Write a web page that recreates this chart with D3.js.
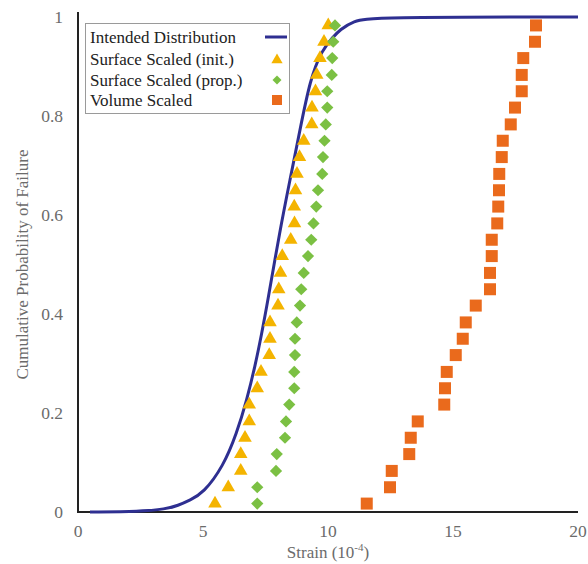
<!DOCTYPE html>
<html>
<head>
<meta charset="utf-8">
<script src="https://cdn.jsdelivr.net/npm/d3@7"></script>
<style>
  html, body { margin: 0; padding: 0; background: #fff; }
  svg { display: block; }
  svg text { font-family: "Liberation Serif", "Times New Roman", serif; }
</style>
</head>
<body>
<svg id="chart" width="588" height="564"></svg>
<script>
// ---- Data ----
const curveX = [0.48, 2.5, 3.5, 4.0, 4.48, 5.01, 5.81, 6.35, 6.75, 7.08, 7.35, 7.57, 8.08, 8.48, 8.88, 9.28, 9.75, 10.21, 10.48, 11.0, 11.8, 20];
const curveY = [0, 0.001, 0.006, 0.013, 0.024, 0.038, 0.092, 0.159, 0.226, 0.294, 0.361, 0.42, 0.57, 0.671, 0.772, 0.873, 0.933, 0.96, 0.974, 0.992, 1, 1];

const probs = [0.017, 0.05, 0.083, 0.117, 0.15, 0.183, 0.217, 0.25, 0.283, 0.317,
               0.35, 0.383, 0.417, 0.45, 0.483, 0.517, 0.55, 0.583, 0.617, 0.65,
               0.683, 0.717, 0.75, 0.783, 0.817, 0.85, 0.883, 0.917, 0.95, 0.983];

const surfInit = [5.48, 6.01, 6.51, 6.51, 6.68, 6.85, 6.85, 7.17, 7.32, 7.65,
                  7.68, 7.68, 8.0, 8.03, 8.1, 8.17, 8.51, 8.66, 8.65, 8.7,
                  8.76, 8.86, 9.03, 9.35, 9.36, 9.5, 9.55, 9.68, 9.84, 10.01];

const surfProp = [7.17, 7.17, 7.92, 7.95, 8.28, 8.32, 8.45, 8.65, 8.65, 8.68,
                  8.68, 8.75, 8.88, 8.93, 9.03, 9.2, 9.33, 9.42, 9.53, 9.6,
                  9.77, 9.8, 9.86, 9.91, 9.97, 9.97, 10.15, 10.17, 10.21, 10.28];

const volume = [11.55, 12.48, 12.55, 13.25, 13.31, 13.59, 14.65, 14.68, 14.75, 15.11,
                15.39, 15.51, 15.91, 16.48, 16.48, 16.55, 16.55, 16.77, 16.81, 16.84,
                16.85, 16.95, 16.99, 17.31, 17.48, 17.75, 17.75, 17.81, 18.28, 18.32];

const xTicks = [0, 5, 10, 15, 20];
const yTicks = [0, 0.2, 0.4, 0.6, 0.8, 1];
const yTickLabels = ["0", "0.2", "0.4", "0.6", "0.8", "1"];

const legendLabels = ["Intended Distribution", "Surface Scaled (init.)", "Surface Scaled (prop.)", "Volume Scaled"];
const colors = { line: "#2E2F91", tri: "#F4B400", dia: "#7BC043", sq: "#EA6A1C" };

// ---- Layout ----
const svg = d3.select("#chart");
const x = d3.scaleLinear().domain([0, 20]).range([78, 578]);
const y = d3.scaleLinear().domain([0, 1]).range([512, 17]);

// Axes lines
svg.append("line").attr("x1", x(0)).attr("x2", x(0)).attr("y1", 12).attr("y2", y(0))
  .attr("stroke", "#222").attr("stroke-width", 2);
svg.append("line").attr("x1", x(0) - 1).attr("x2", x(20)).attr("y1", y(0)).attr("y2", y(0))
  .attr("stroke", "#222").attr("stroke-width", 2);

// Tick labels
const tk = svg.append("g");
tk.selectAll("text.xl").data(xTicks).join("text").attr("class", "xl")
  .attr("x", d => x(d)).attr("y", 537)
  .attr("text-anchor", "middle").attr("font-size", 17.5).attr("fill", "#6b6b6b")
  .text(d => d);
tk.selectAll("text.yl").data(yTicks).join("text").attr("class", "yl")
  .attr("x", 63).attr("y", d => y(d) + 6)
  .attr("text-anchor", "end").attr("font-size", 17.5).attr("fill", "#6b6b6b")
  .text((d, i) => yTickLabels[i]);

// Axis titles
const xt = svg.append("text").attr("x", x(10)).attr("y", 558)
  .attr("text-anchor", "middle").attr("font-size", 17).attr("fill", "#6b6b6b");
xt.append("tspan").text("Strain (10");
xt.append("tspan").attr("dy", -7).attr("font-size", 11).text("-4");
xt.append("tspan").attr("dy", 7).text(")");

svg.append("text")
  .attr("transform", `translate(28, ${y(0.5)}) rotate(-90)`)
  .attr("text-anchor", "middle").attr("font-size", 17).attr("fill", "#6b6b6b")
  .text("Cumulative Probability of Failure");

// Intended distribution line
const lineData = curveX.map((d, i) => [d, curveY[i]]);
svg.append("path").datum(lineData)
  .attr("fill", "none").attr("stroke", colors.line).attr("stroke-width", 3)
  .attr("d", d3.line().x(d => x(d[0])).y(d => y(d[1])).curve(d3.curveBasis));

// Markers
const triSym = d3.symbol().type(d3.symbolTriangle).size(80);
const diaSym = d3.symbol().type(d3.symbolSquare).size(75);

svg.append("g").selectAll("path").data(surfInit.map((d, i) => [d, probs[i]])).join("path")
  .attr("d", triSym).attr("fill", colors.tri)
  .attr("transform", d => `translate(${x(d[0])},${y(d[1])})`);

svg.append("g").selectAll("path").data(surfProp.map((d, i) => [d, probs[i]])).join("path")
  .attr("d", diaSym).attr("fill", colors.dia)
  .attr("transform", d => `translate(${x(d[0])},${y(d[1])}) rotate(45)`);

svg.append("g").selectAll("rect").data(volume.map((d, i) => [d, probs[i]])).join("rect")
  .attr("x", d => x(d[0]) - 6).attr("y", d => y(d[1]) - 6)
  .attr("width", 12).attr("height", 12).attr("fill", colors.sq);

// Legend
const lg = svg.append("g");
lg.append("rect").attr("x", 85.5).attr("y", 23.5).attr("width", 204).attr("height", 90)
  .attr("fill", "#fff").attr("stroke", "#9a9a9a").attr("stroke-width", 1);
const rowY = [37, 59, 80, 100];
lg.selectAll("text").data(legendLabels).join("text")
  .attr("x", 90).attr("y", (d, i) => rowY[i] + 5.5)
  .attr("font-size", 17).attr("fill", "#222")
  .text(d => d);
lg.append("line").attr("x1", 265).attr("x2", 287).attr("y1", rowY[0]).attr("y2", rowY[0])
  .attr("stroke", colors.line).attr("stroke-width", 3);
lg.append("path").attr("d", d3.symbol().type(d3.symbolTriangle).size(55))
  .attr("fill", colors.tri).attr("transform", `translate(277,${rowY[1] + 1})`);
lg.append("path").attr("d", d3.symbol().type(d3.symbolSquare).size(40))
  .attr("fill", colors.dia).attr("transform", `translate(277,${rowY[2]}) rotate(45)`);
lg.append("rect").attr("x", 272).attr("y", rowY[3] - 5).attr("width", 10).attr("height", 10)
  .attr("fill", colors.sq);
</script>
</body>
</html>
